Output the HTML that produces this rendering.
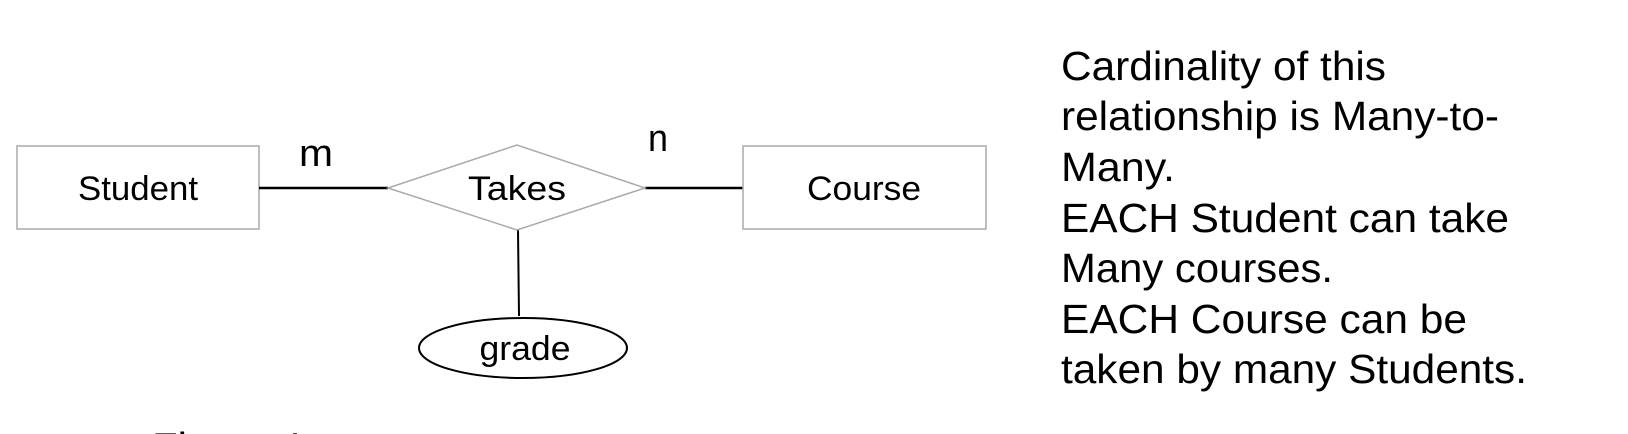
<!DOCTYPE html>
<html>
<head>
<meta charset="utf-8">
<style>
html,body{margin:0;padding:0;background:#fff;width:1628px;height:434px;overflow:hidden;}
svg{display:block;}
text{font-family:"Liberation Sans",Arial,sans-serif;fill:#000;}
</style>
</head>
<body>
<svg width="1628" height="434" viewBox="0 0 1628 434">
  <g>
    <rect x="17" y="146" width="242" height="83" fill="#fff" stroke="#aaa" stroke-width="1.5"/>
    <text x="138" y="200" font-size="34" text-anchor="middle" textLength="120" lengthAdjust="spacingAndGlyphs">Student</text>
  </g>
  <line x1="259" y1="188" x2="388" y2="188" stroke="#000" stroke-width="2.5"/>
  <line x1="645" y1="188" x2="743" y2="188" stroke="#000" stroke-width="2.5"/>
  <line x1="518" y1="230" x2="519" y2="316" stroke="#000" stroke-width="2"/>
  <g>
    <polygon points="388,188 517,145 645,188 517,230" fill="#fff" stroke="#aaa" stroke-width="1.5"/>
    <text x="517" y="200" font-size="34" text-anchor="middle" textLength="98" lengthAdjust="spacingAndGlyphs">Takes</text>
  </g>
  <g>
    <rect x="743" y="146" width="243" height="83" fill="#fff" stroke="#aaa" stroke-width="1.5"/>
    <text x="864" y="200" font-size="34" text-anchor="middle" textLength="114" lengthAdjust="spacingAndGlyphs">Course</text>
  </g>
  <g>
    <ellipse cx="523" cy="348" rx="104" ry="30" fill="#fff" stroke="#000" stroke-width="2"/>
    <text x="525" y="360" font-size="34" text-anchor="middle" textLength="91" lengthAdjust="spacingAndGlyphs">grade</text>
  </g>
  <text x="316" y="166" font-size="38" text-anchor="middle" textLength="34" lengthAdjust="spacingAndGlyphs">m</text>
  <text x="658" y="151" font-size="38" text-anchor="middle" textLength="20" lengthAdjust="spacingAndGlyphs">n</text>
  <g font-size="41">
    <text x="1061" y="80" textLength="325" lengthAdjust="spacingAndGlyphs">Cardinality of this</text>
    <text x="1061" y="130" textLength="438" lengthAdjust="spacingAndGlyphs">relationship is Many-to-</text>
    <text x="1061" y="181" textLength="114" lengthAdjust="spacingAndGlyphs">Many.</text>
    <text x="1061" y="232" textLength="448" lengthAdjust="spacingAndGlyphs">EACH Student can take</text>
    <text x="1061" y="282" textLength="272" lengthAdjust="spacingAndGlyphs">Many courses.</text>
    <text x="1061" y="333" textLength="406" lengthAdjust="spacingAndGlyphs">EACH Course can be</text>
    <text x="1061" y="383" textLength="466" lengthAdjust="spacingAndGlyphs">taken by many Students.</text>
  </g>
  <text x="152" y="462" font-size="42" font-family="Liberation Serif">Figure 1</text>
</svg>
</body>
</html>
